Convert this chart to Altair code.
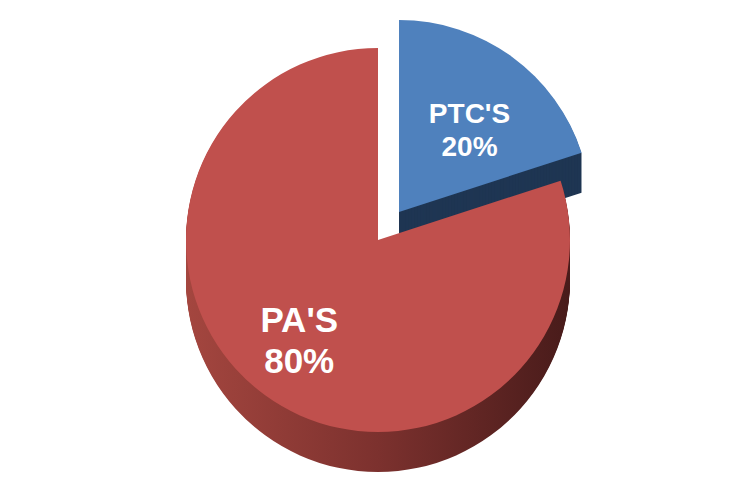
import altair as alt
import pandas as pd

categories = ["PTC'S", "PA'S"]
values = [20, 80]

data = pd.DataFrame({"category": categories, "value": values})

W, H = 739, 473
CX, CY, R = 370, 232, 192
DEPTH = 40
STEP = 1
EXPLODE_DX, EXPLODE_DY = 21, -28

RED_TOP = "#C0504D"
BLUE_TOP = "#4F81BD"
BLUE_SIDE = "#1F3653"
red_side = alt.Gradient(
    gradient="linear",
    stops=[
        alt.GradientStop(color="#A4463F", offset=0),
        alt.GradientStop(color="#7C312E", offset=0.5),
        alt.GradientStop(color="#481B1A", offset=1),
    ],
    x1=0, x2=1, y1=0, y2=0,
)

base = alt.Chart(data).transform_calculate(
    label="datum.category + '\\n' + datum.value + '%'"
).encode(
    theta=alt.Theta("value:Q", stack=True),
    order=alt.Order("value:Q"),
)


def only(cat):
    return alt.condition(alt.datum.category == cat, alt.value(1), alt.value(0))


layers = []
# blue slice (exploded) side then top
bx, by = CX + EXPLODE_DX, CY + EXPLODE_DY
for k in range(DEPTH, 0, -STEP):
    layers.append(
        base.mark_arc(radius=R, fill=BLUE_SIDE, strokeWidth=0).encode(
            x=alt.value(bx), y=alt.value(by + k), opacity=only("PTC'S")
        )
    )
layers.append(
    base.mark_arc(radius=R, fill=BLUE_TOP, strokeWidth=0).encode(
        x=alt.value(bx), y=alt.value(by), opacity=only("PTC'S")
    )
)
# red slice side then top
for k in range(DEPTH, 0, -STEP):
    layers.append(
        base.mark_arc(radius=R, fill=red_side, strokeWidth=0).encode(
            x=alt.value(CX), y=alt.value(CY + k), opacity=only("PA'S")
        )
    )
layers.append(
    base.mark_arc(radius=R, fill=RED_TOP, strokeWidth=0).encode(
        x=alt.value(CX), y=alt.value(CY), opacity=only("PA'S")
    )
)
# labels
layers.append(
    base.mark_text(
        radius=100, fontSize=35, fontWeight="bold", color="white",
        font="Liberation Sans", lineBreak="\n", lineHeight=41, baseline="middle",
    ).encode(
        text="label:N", x=alt.value(CX - 20), y=alt.value(CY), opacity=only("PA'S")
    )
)
layers.append(
    base.mark_text(
        radius=120, fontSize=28, fontWeight="bold", color="white",
        font="Liberation Sans", lineBreak="\n", lineHeight=33, baseline="middle",
    ).encode(
        text="label:N", x=alt.value(bx), y=alt.value(by), opacity=only("PTC'S")
    )
)

chart = alt.layer(*layers).properties(
    width=W, height=H, padding=0
).configure_view(strokeWidth=0)

chart.save("out.html", embed_options={"renderer": "svg", "actions": False})
